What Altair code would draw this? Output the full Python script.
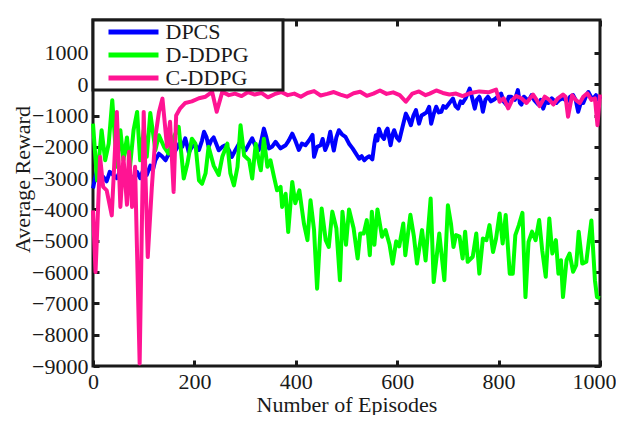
import altair as alt
import pandas as pd

series_names = ["DPCS", "D-DDPG", "C-DDPG"]
series_colors = ["#0000ff", "#00ff00", "#ff1493"]

x_ticks = [0, 200, 400, 600, 800, 1000]
y_ticks = [-9000, -8000, -7000, -6000, -5000, -4000, -3000, -2000, -1000, 0, 1000]

dpcs_ep = [0, 4, 8, 14, 20, 27, 33, 40, 47, 54, 60, 67, 73, 80, 87, 93, 100, 106, 113, 118,
           123, 130, 136, 143, 150, 156, 163, 170, 176, 182, 189, 195, 202, 209, 215, 219, 224,
           228, 233, 238, 243, 248, 255, 261, 268, 274, 281, 288, 295, 301, 308, 314, 321, 327,
           332, 337, 342, 347, 353, 360, 365, 370, 375, 380, 386, 393, 399, 406, 412, 419, 426,
           433, 436, 442, 449, 453, 458, 463, 468, 471, 475, 480, 485, 491, 498, 505, 512, 518,
           525, 530, 535, 540, 545, 551, 555, 558, 561, 564, 569, 574, 578, 581, 584, 587, 591,
           594, 599, 604, 610, 617, 622, 627, 632, 637, 643, 648, 653, 658, 663, 667, 672, 677,
           682, 687, 691, 696, 703, 710, 715, 720, 725, 729, 735, 743, 748, 753, 757, 762, 766,
           769, 774, 779, 785, 792, 798, 805, 810, 815, 820, 825, 832, 838, 842, 845, 850, 855,
           860, 865, 870, 878, 883, 888, 893, 898, 905, 914, 920, 927, 935, 941, 947, 952, 957,
           962, 967, 972, 977, 982, 987, 992, 997, 1000]
dpcs_reward = [-3330, -3000, -2750, -3000, -2960, -3100, -2800, -2900, -3000, -2750, -2900, -3170,
               -2900, -3060, -2800, -3000, -2700, -2900, -2600, -2750, -2430, -2220, -2300, -2430,
               -2200, -2300, -2110, -1900, -2000, -1730, -2180, -2000, -1950, -2100, -1800, -1520,
               -1700, -2000, -1800, -1700, -1900, -2110, -2000, -1950, -2100, -2320, -2100, -1900,
               -2000, -2110, -1900, -1730, -2000, -2100, -1800, -1420, -1700, -2050, -2000, -1840,
               -1950, -2050, -2000, -1950, -1800, -1580, -1800, -2100, -1900, -1950, -1800, -1620,
               -2320, -2000, -1950, -1750, -2100, -1900, -1520, -1800, -2120, -1700, -1470, -1600,
               -1680, -1900, -2050, -2200, -2380, -2300, -2430, -2350, -2300, -2400, -1900, -1630,
               -1800, -1420, -1650, -1750, -1500, -1420, -1700, -1950, -1600, -1470, -1700, -1800,
               -1400, -940, -1100, -1310, -1000, -830, -1260, -1000, -950, -900, -720, -1260, -950,
               -720, -900, -880, -700, -750, -600, -460, -700, -780, -550, -600, -450, -140, -450,
               -780, -500, -400, -600, -880, -500, -400, -550, -480, -400, -300, -550, -650, -400,
               -400, -500, -190, -600, -650, -400, -480, -500, -350, -500, -650, -500, -780, -550,
               -600, -450, -600, -500, -450, -550, -400, -350, -500, -880, -600, -600, -400, -250,
               -400, -450, -350, -500, -400]

dddpg_ep = [0, 8, 17, 24, 31, 38, 47, 54, 60, 67, 73, 80, 87, 93, 100, 106, 113, 123, 130, 140,
            149, 159, 169, 179, 186, 195, 202, 209, 215, 222, 228, 238, 248, 255, 265, 271, 278,
            285, 291, 298, 308, 314, 321, 328, 331, 337, 344, 350, 357, 363, 370, 373, 380, 385,
            393, 399, 407, 416, 423, 429, 436, 442, 451, 459, 465, 472, 480, 487, 492, 499, 505,
            514, 522, 527, 534, 540, 546, 550, 555, 561, 570, 577, 585, 591, 598, 604, 612, 616,
            626, 633, 639, 649, 656, 666, 672, 683, 693, 700, 706, 711, 716, 723, 729, 734, 739,
            749, 756, 762, 769, 776, 782, 789, 795, 802, 808, 814, 822, 828, 833, 840, 847, 853,
            859, 866, 873, 880, 886, 893, 900, 906, 913, 918, 923, 927, 934, 940, 947, 953, 958,
            965, 973, 983, 990, 994, 1000]
dddpg_reward = [-1260, -3070, -1470, -2430, -1900, -510, -2640, -1470, -2430, -1700, -2640, -1470,
                -885, -2430, -1470, -2320, -920, -2110, -1630, -2000, -2220, -1700, -1360, -3010,
                -2550, -1740, -1900, -3070, -3180, -2850, -2000, -2600, -2900, -2320, -1900, -2850,
                -3230, -2640, -1310, -2280, -2430, -3010, -1900, -2540, -2750, -1740, -2640, -2430,
                -2960, -3390, -3280, -3920, -3500, -4720, -3120, -3800, -3390, -4450, -4980, -3710,
                -4660, -6530, -3970, -4980, -5200, -4070, -4600, -6260, -4070, -5130, -4000, -4600,
                -5570, -4770, -4770, -4340, -5460, -4070, -5130, -4000, -4870, -4660, -5130, -5730,
                -5020, -5180, -4450, -5460, -4170, -4870, -5730, -4660, -5630, -3650, -6320, -4770,
                -6260, -3870, -4450, -5200, -4820, -4870, -5570, -4710, -5670, -5510, -4770, -6050,
                -4930, -4980, -4500, -5360, -4930, -4130, -5090, -4180, -6050, -6050, -4820, -4500,
                -4110, -6800, -5040, -4710, -4980, -4340, -5300, -6150, -4290, -5410, -4980, -6050,
                -5620, -6800, -5620, -5410, -5990, -5780, -4710, -5730, -5670, -4350, -6260, -6800,
                -6830]

cddpg_ep = [0, 5, 14, 20, 27, 37, 47, 54, 60, 67, 71, 77, 83, 92, 100, 108, 116, 123, 130, 137,
            146, 152, 159, 164, 172, 182, 195, 209, 222, 235, 244, 255, 268, 280, 293, 306, 319,
            332, 345, 358, 371, 384, 397, 410, 423, 436, 449, 462, 475, 488, 501, 514, 527, 540,
            553, 566, 579, 592, 605, 617, 630, 643, 656, 664, 677, 690, 703, 716, 729, 745, 762,
            780, 795, 802, 810, 819, 827, 835, 845, 855, 868, 875, 881, 891, 900, 908, 917, 927,
            932, 937, 945, 952, 960, 967, 975, 983, 990, 995, 1000]
cddpg_reward = [-4030, -6000, -2320, -3280, -3390, -4190, -885, -3920, -2330, -3850, -2160, -3920,
                -2640, -8920, -885, -5520, -3300, -1680, -900, -460, -2000, -1200, -3440, -1000,
                -770, -600, -550, -450, -400, -245, -880, -245, -350, -300, -380, -250, -330, -280,
                -420, -320, -250, -350, -300, -400, -280, -220, -360, -310, -250, -330, -400, -290,
                -240, -370, -300, -200, -310, -260, -350, -560, -300, -230, -350, -300, -200, -280,
                -330, -300, -380, -280, -230, -260, -170, -560, -450, -770, -500, -380, -450, -600,
                -330, -500, -700, -400, -500, -650, -450, -330, -400, -1040, -350, -500, -600, -400,
                -290, -500, -450, -1310, -330]

df_dpcs = pd.DataFrame({"ep": dpcs_ep, "reward": dpcs_reward, "series": series_names[0]})
df_dddpg = pd.DataFrame({"ep": dddpg_ep, "reward": dddpg_reward, "series": series_names[1]})
df_cddpg = pd.DataFrame({"ep": cddpg_ep, "reward": cddpg_reward, "series": series_names[2]})

FONT = "Liberation Serif"
TXT = "#1a1a1a"
color_scale = alt.Scale(domain=series_names, range=series_colors)
xs = alt.Scale(domain=[0, 1000], nice=False)
ys = alt.Scale(domain=[-9000, 2050], nice=False)

x_main = alt.Axis(orient="bottom", values=x_ticks, format="d", title="Number of Episodes",
                  offset=-6, tickSize=6, tickWidth=3, tickColor=TXT, domain=False,
                  labelPadding=5, labelFont=FONT, labelFontSize=22, labelColor=TXT,
                  labelOffset={"condition": {"test": "datum.value == 1000", "value": -6}, "value": 0},
                  titleFont=FONT, titleFontSize=22, titleFontWeight="normal", titleColor=TXT,
                  titlePadding=2, grid=False, labelFlush=False)
y_main = alt.Axis(orient="left", values=y_ticks, format="d", title="Average Reward", offset=-6,
                  tickSize=6, tickWidth=3, tickColor=TXT, domain=False, labelPadding=5,
                  labelFont=FONT, labelFontSize=22, labelColor=TXT, titleFont=FONT,
                  titleFontSize=22, titleFontWeight="normal", titleColor=TXT, titlePadding=-3,
                  titleY=159, grid=False, labelFlush=False)
x_top = alt.Axis(orient="top", values=x_ticks, title=None, offset=-6, tickSize=6, tickWidth=3,
                 tickColor=TXT, domain=False, labels=False, grid=False)
y_right = alt.Axis(orient="right", values=y_ticks, title=None, offset=-6, tickSize=6,
                   tickWidth=3, tickColor=TXT, domain=False, labels=False, grid=False)

legend = alt.Legend(title=None, orient="top-left", offset=0,
                    symbolType="M-1.4286,0H5.714M21.86,0H21.86",
                    symbolSize=196, symbolStrokeWidth=5, labelFont=FONT, labelFontSize=22,
                    labelColor=TXT, strokeColor=TXT, fillColor="white",
                    padding=1, rowPadding=1, labelOffset=36, symbolOffset=13.5)

color_enc = alt.Color("series:N", scale=color_scale, legend=legend)

blue = alt.Chart(df_dpcs).mark_line(strokeWidth=4, strokeJoin="round").encode(
    x=alt.X("ep:Q", scale=xs, axis=x_main),
    y=alt.Y("reward:Q", scale=ys, axis=y_main),
    color=color_enc,
)
green = alt.Chart(df_dddpg).mark_line(strokeWidth=4, strokeJoin="round").encode(
    x=alt.X("ep:Q", scale=xs, axis=x_top),
    y=alt.Y("reward:Q", scale=ys, axis=y_right),
    color=color_enc,
)
pink = alt.Chart(df_cddpg).mark_line(strokeWidth=4, strokeJoin="round").encode(
    x=alt.X("ep:Q", scale=xs, axis=None),
    y=alt.Y("reward:Q", scale=ys, axis=None),
    color=color_enc,
)

chart = alt.layer(blue, green, pink).resolve_axis(x="independent", y="independent").properties(
    width=507, height=346, background="white",
    padding={"left": 3, "top": 10, "right": 0, "bottom": 0}
).configure_view(stroke=TXT, strokeWidth=3).configure_legend(strokeWidth=3)

chart.save("out.html", embed_options={"renderer": "svg", "actions": False})
